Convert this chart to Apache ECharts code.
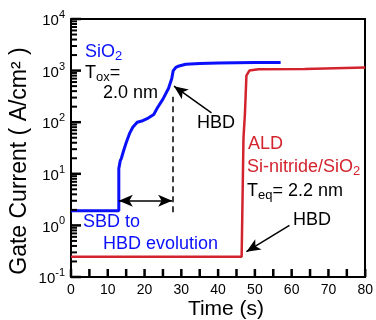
<!DOCTYPE html>
<html>
<head>
<meta charset="utf-8">
<script src="https://cdn.jsdelivr.net/npm/echarts@6/dist/echarts.min.js"></script>
<style>
  html, body { margin: 0; padding: 0; background: #fff; }
  #gate_charts { width: 376px; height: 320px; }
</style>
</head>
<body>
<div id="gate_charts"></div>
<script>
// 刻度
const xTicks = [0, 5, 10, 15, 20, 25, 30, 35, 40, 45, 50, 55, 60, 65, 70, 75, 80]
const yMajorTicks = [0.1, 1, 10, 100, 1000, 10000]
const yMinorTicks = [0.2, 0.3, 0.4, 0.5, 0.6, 0.7, 0.8, 0.9,
  2, 3, 4, 5, 6, 7, 8, 9,
  20, 30, 40, 50, 60, 70, 80, 90,
  200, 300, 400, 500, 600, 700, 800, 900,
  2000, 3000, 4000, 5000, 6000, 7000, 8000, 9000]

// SiO2 曲线 (时间 s, 电流 A/cm2)
const sio2Time = [0, 13.0, 13.0, 13.3, 13.4, 13.7, 14.3, 15.0, 15.9, 16.8, 18.0, 19.5, 21.0, 22.5, 23.5, 25.0, 26.5, 27.4, 27.8, 28.5, 29.4, 31.2, 35, 40, 50, 57]
const sio2Current = [1.93, 1.93, 12.6, 12.6, 18, 20, 28, 40, 60, 80, 100, 107, 120, 141, 190, 280, 450, 700, 1000, 1150, 1230, 1330, 1380, 1400, 1430, 1430]

// ALD Si-nitride/SiO2 曲线
const aldTime = [0, 46.4, 46.6, 46.9, 46.9, 47.3, 47.7, 48.5, 51, 63.5, 63.6, 80]
const aldCurrent = [0.247, 0.247, 0.265, 0.265, 50, 150, 800, 1000, 1060, 1080, 1150, 1150]

// 标注
const arrowTime = [13.0, 27.5]
const arrowCurrent = 3.0
const dashTime = 27.55
const dashCurrent = [1.8, 310]
const hbd1Tail = [38.2, 151]
const hbd1Head = [28.0, 500]
const hbd2Tail = [59.4, 1.0]
const hbd2Head = [47.7, 0.31]

const font = 'Liberation Sans'
let blue = '#0a10fa'
let red = '#d3242e'

function zip(a, b) {
  return a.map((v, i) => [v, b[i]])
}

function subText(x, y, rich, text, color) {
  return {
    type: 'text',
    x: x,
    y: y,
    z: 10,
    style: {
      text: text,
      fill: color,
      font: '18px ' + font,
      verticalAlign: 'middle',
      rich: rich
    }
  }
}

const subRich = {
  a: {fontSize: 18, fontFamily: font, verticalAlign: 'top'},
  s: {fontSize: 13, fontFamily: font, verticalAlign: 'top', padding: [7, 0, 0, 0]}
}

// 边框 (上/右)
const frameLine = {show: true, onZero: false, lineStyle: {color: '#000', width: 2}}

let chartDom = document.getElementById('gate_charts');
let myChart = echarts.init(chartDom);
let option;
option = {
  animation: false,
  grid: {
    left: 71,
    right: 8,
    top: 19,
    bottom: 43
  },
  xAxis: [
    {
      type: 'value',
      min: 0,
      max: 80,
      interval: 10,
      axisLine: {show: true, onZero: false, lineStyle: {color: '#000', width: 2}},
      axisTick: {show: false},
      splitLine: {show: false},
      axisLabel: {color: '#000', fontSize: 14, fontFamily: font, margin: 6, showMaxLabel: true}
    },
    {
      type: 'value',
      position: 'top',
      min: 0,
      max: 80,
      axisLine: frameLine,
      axisTick: {show: false},
      axisLabel: {show: false},
      splitLine: {show: false}
    }
  ],
  yAxis: [
    {
      type: 'log',
      logBase: 10,
      min: 0.1,
      max: 10000,
      axisLine: {show: true, onZero: false, lineStyle: {color: '#000', width: 2}},
      axisTick: {show: false},
      splitLine: {show: false},
      axisLabel: {
        margin: 6,
        formatter: function (v) {
          let e = Math.round(Math.log10(v))
          return '{b|10}{s|' + e + '}'
        },
        rich: {
          b: {fontSize: 15, fontFamily: font, color: '#000', verticalAlign: 'top', padding: [4, 0, 0, 0]},
          s: {fontSize: 11, fontFamily: font, color: '#000', verticalAlign: 'top'}
        }
      }
    },
    {
      type: 'value',
      position: 'right',
      min: 0,
      max: 1,
      axisLine: frameLine,
      axisTick: {show: false},
      axisLabel: {show: false},
      splitLine: {show: false}
    }
  ],
  series: [
    {
      name: 'ALD',
      type: 'line',
      data: zip(aldTime, aldCurrent),
      showSymbol: false,
      lineStyle: {color: red, width: 2.5},
      z: 3
    },
    {
      name: 'SiO2',
      type: 'line',
      data: zip(sio2Time, sio2Current),
      showSymbol: false,
      lineStyle: {color: blue, width: 3},
      z: 4
    },
    {
      name: 'annot',
      type: 'line',
      data: [],
      z: 5,
      markLine: {
        silent: true,
        animation: false,
        label: {show: false},
        data: [
          [
            {coord: [arrowTime[0], arrowCurrent], symbol: 'arrow', symbolSize: [9, 14]},
            {coord: [arrowTime[1], arrowCurrent], symbol: 'arrow', symbolSize: [9, 14]}
          ],
          [
            {coord: [dashTime, dashCurrent[0]], symbol: 'none', lineStyle: {type: [6, 4], width: 1.5, color: '#000'}},
            {coord: [dashTime, dashCurrent[1]], symbol: 'none'}
          ],
          [
            {coord: hbd1Tail, symbol: 'none'},
            {coord: hbd1Head, symbol: 'arrow', symbolSize: [9, 14]}
          ],
          [
            {coord: hbd2Tail, symbol: 'none'},
            {coord: hbd2Head, symbol: 'arrow', symbolSize: [9, 14]}
          ]
        ],
        lineStyle: {color: '#000', width: 1.5, type: 'solid'}
      }
    }
  ],
  graphic: [
    {
      type: 'text',
      x: 20,
      y: 161,
      rotation: Math.PI / 2,
      style: {
        text: 'Gate Current ( A/cm² )',
        fill: '#000',
        font: '23px ' + font,
        align: 'center',
        verticalAlign: 'middle'
      }
    },
    {
      type: 'text',
      x: 226,
      y: 309,
      style: {
        text: 'Time (s)',
        fill: '#000',
        font: '21px ' + font,
        align: 'center',
        verticalAlign: 'middle'
      }
    },
    subText(85, 53, subRich, '{a|SiO}{s|2}', blue),
    subText(85, 74, subRich, '{a|T}{s|ox}{a|=}', '#000'),
    subText(103, 93, subRich, '{a|2.0 nm}', '#000'),
    subText(197, 123, subRich, '{a|HBD}', '#000'),
    subText(83, 222, subRich, '{a|SBD to}', blue),
    subText(103, 244, subRich, '{a|HBD evolution}', blue),
    subText(248, 144, subRich, '{a|ALD}', red),
    subText(247, 168, subRich, '{a|Si-nitride/SiO}{s|2}', red),
    subText(247, 192, subRich, '{a|T}{s|eq}{a|= 2.2 nm}', '#000'),
    subText(293, 220, subRich, '{a|HBD}', '#000')
  ]
};

option && myChart.setOption(option);

// 刻度线 (位置由坐标轴换算), 加粗加长
let finder = {xAxisIndex: 0, yAxisIndex: 0}
let tickGraphics = []
xTicks.forEach(v => {
  let p = myChart.convertToPixel(finder, [v, 0.1])
  tickGraphics.push({type: 'line', z: 20, shape: {x1: p[0], y1: p[1], x2: p[0], y2: p[1] - 8}, style: {stroke: '#000', lineWidth: 2.5}})
})
yMajorTicks.forEach(v => {
  let p = myChart.convertToPixel(finder, [0, v])
  tickGraphics.push({type: 'line', z: 20, shape: {x1: p[0], y1: p[1], x2: p[0] + 10, y2: p[1]}, style: {stroke: '#000', lineWidth: 2.5}})
})
yMinorTicks.forEach(v => {
  let p = myChart.convertToPixel(finder, [0, v])
  tickGraphics.push({type: 'line', z: 20, shape: {x1: p[0], y1: p[1], x2: p[0] + 6, y2: p[1]}, style: {stroke: '#000', lineWidth: 2}})
})
myChart.setOption({graphic: option.graphic.concat(tickGraphics)})
</script>
</body>
</html>
